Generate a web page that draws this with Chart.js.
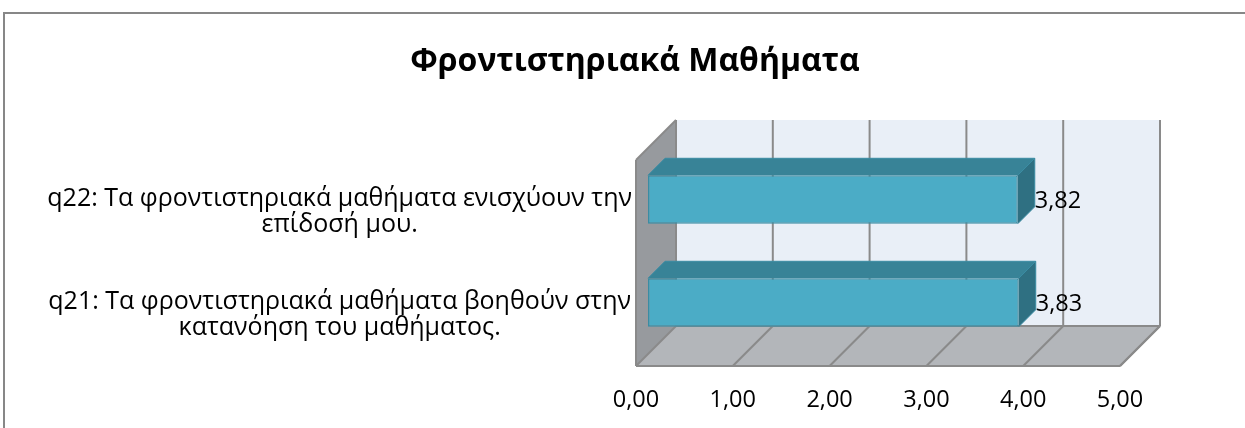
<!DOCTYPE html>
<html>
<head>
<meta charset="utf-8">
<script src="https://cdn.jsdelivr.net/npm/chart.js@4.4.1/dist/chart.umd.min.js"></script>
<style>
  html, body { margin: 0; padding: 0; background: #fff; overflow: hidden; }
  #wrap { position: relative; width: 1245px; height: 428px; }
</style>
</head>
<body>
<div id="wrap"><canvas id="chart" width="1245" height="428"></canvas></div>
<script>
// data
var categories = [
  ['q22: Τα φροντιστηριακά μαθήματα ενισχύουν την', 'επίδοσή μου.'],
  ['q21: Τα φροντιστηριακά μαθήματα βοηθούν στην', 'κατανόηση του μαθήματος.']
];
var values = [3.82, 3.83];
var tickValues = [0, 1, 2, 3, 4, 5];
var titleText = 'Φροντιστηριακά Μαθήματα';

var FONT = '"Open Sans", "Noto Sans", sans-serif';
var DEPTH = 40;      // depth of walls / floor
var BAR_OFF = 12;    // where the bar front face sits in depth
var BAR_DEPTH = 17;  // thickness of the bar in depth

function fmt(v) { return v.toFixed(2).replace('.', ','); }

function poly(ctx, pts, fill) {
  ctx.beginPath();
  ctx.moveTo(pts[0][0], pts[0][1]);
  for (var i = 1; i < pts.length; i++) ctx.lineTo(pts[i][0], pts[i][1]);
  ctx.closePath();
  ctx.fillStyle = fill;
  ctx.fill();
}

function line(ctx, x1, y1, x2, y2) {
  ctx.beginPath();
  ctx.moveTo(x1, y1);
  ctx.lineTo(x2, y2);
  ctx.stroke();
}

var frame3d = {
  id: 'frame3d',
  beforeDraw: function(chart) {
    var ctx = chart.ctx;
    ctx.save();
    ctx.strokeStyle = '#878787';
    ctx.lineWidth = 2;
    ctx.strokeRect(4, 13, 1400, 1000);
    ctx.restore();
  },
  beforeDatasetsDraw: function(chart) {
    var ctx = chart.ctx, a = chart.chartArea, xs = chart.scales.x;
    var L = a.left, R = a.right, T = a.top, B = a.bottom, D = DEPTH;
    ctx.save();
    // back wall
    ctx.fillStyle = '#e9eff7';
    ctx.fillRect(L + D, T - D, R - L, B - T);
    // left wall
    poly(ctx, [[L, T], [L + D, T - D], [L + D, B - D], [L, B]], '#979a9e');
    // floor
    poly(ctx, [[L, B], [L + D, B - D], [R + D, B - D], [R, B]], '#b3b6ba');
    // grid lines on the back wall and the floor
    ctx.strokeStyle = '#8a8a8a';
    ctx.lineWidth = 2;
    tickValues.forEach(function(v) {
      var x = xs.getPixelForValue(v);
      line(ctx, x + D, T - D, x + D, B - D);
      line(ctx, x, B, x + D, B - D);
    });
    // edges
    line(ctx, L, T, L + D, T - D);
    line(ctx, L, T, L, B);
    line(ctx, L, B, R, B);
    line(ctx, R, B, R + D, B - D);
    line(ctx, L + D, B - D, R + D, B - D);
    ctx.restore();
    // bars: front face drawn by Chart.js, pushed back in depth
    ctx.save();
    ctx.translate(BAR_OFF, -BAR_OFF);
  },
  afterDatasetsDraw: function(chart) {
    var ctx = chart.ctx;
    ctx.restore();
    var meta = chart.getDatasetMeta(0);
    ctx.save();
    meta.data.forEach(function(bar, i) {
      var p = bar.getProps(['x', 'y', 'base', 'height'], true);
      var d = BAR_DEPTH;
      var x0 = p.base + BAR_OFF, x1 = p.x + BAR_OFF;
      var y0 = p.y - p.height / 2 - BAR_OFF, y1 = p.y + p.height / 2 - BAR_OFF;
      poly(ctx, [[x0, y0], [x0 + d, y0 - d], [x1 + d, y0 - d], [x1, y0]], '#388397');
      poly(ctx, [[x1, y0], [x1 + d, y0 - d], [x1 + d, y1 - d], [x1, y1]], '#2f7082');
      ctx.strokeStyle = '#3a8ca3';
      ctx.lineWidth = 1;
      ctx.beginPath();
      ctx.moveTo(x0, y0); ctx.lineTo(x0 + d, y0 - d); ctx.lineTo(x1 + d, y0 - d);
      ctx.lineTo(x1 + d, y1 - d); ctx.lineTo(x1, y1);
      ctx.moveTo(x1, y0); ctx.lineTo(x1 + d, y0 - d);
      ctx.stroke();
      ctx.fillStyle = '#000';
      ctx.font = '23.5px ' + FONT;
      ctx.textAlign = 'left';
      ctx.textBaseline = 'middle';
      ctx.fillText(fmt(values[i]), x1 + d, p.y - BAR_OFF + 2);
    });
    ctx.restore();
  }
};

new Chart(document.getElementById('chart'), {
  type: 'bar',
  data: {
    labels: categories,
    datasets: [{
      data: values,
      backgroundColor: '#4bacc6',
      borderColor: '#3a8ca3',
      borderWidth: 1.5,
      borderSkipped: false,
      categoryPercentage: 1,
      barPercentage: 0.47,
      clip: false
    }]
  },
  options: {
    indexAxis: 'y',
    responsive: false,
    animation: false,
    layout: { padding: { left: 40, right: 15, top: 0, bottom: 0 } },
    plugins: {
      legend: { display: false },
      tooltip: { enabled: false },
      title: {
        display: true,
        text: titleText,
        color: '#000',
        font: { family: FONT, size: 32, weight: 'bold', lineHeight: 1.2 },
        padding: { top: 43, bottom: 78.6 }
      }
    },
    scales: {
      x: {
        min: 0,
        max: 5,
        grid: { display: false, drawTicks: false },
        border: { display: false },
        afterFit: function(s) { s.height = 62; },
        afterBuildTicks: function(s) { s.ticks = tickValues.map(function(v) { return { value: v }; }); },
        ticks: {
          color: '#000',
          font: { family: FONT, size: 23.5 },
          padding: 20,
          callback: function(v) { return fmt(v); }
        }
      },
      y: {
        grid: { display: false, drawTicks: false },
        border: { display: false },
        afterFit: function(s) { s.width = 596; },
        ticks: {
          color: '#000',
          crossAlign: 'center',
          font: { family: FONT, size: 25, lineHeight: 1.04 },
          padding: 4
        }
      },
      // empty right-hand box that leaves room for the depth of the 3D frame
      y2: {
        axis: 'y',
        type: 'category',
        position: 'right',
        grid: { display: false, drawTicks: false },
        border: { display: false },
        ticks: { display: false },
        afterFit: function(s) { s.width = 110; }
      }
    }
  },
  plugins: [frame3d]
});
</script>
</body>
</html>
